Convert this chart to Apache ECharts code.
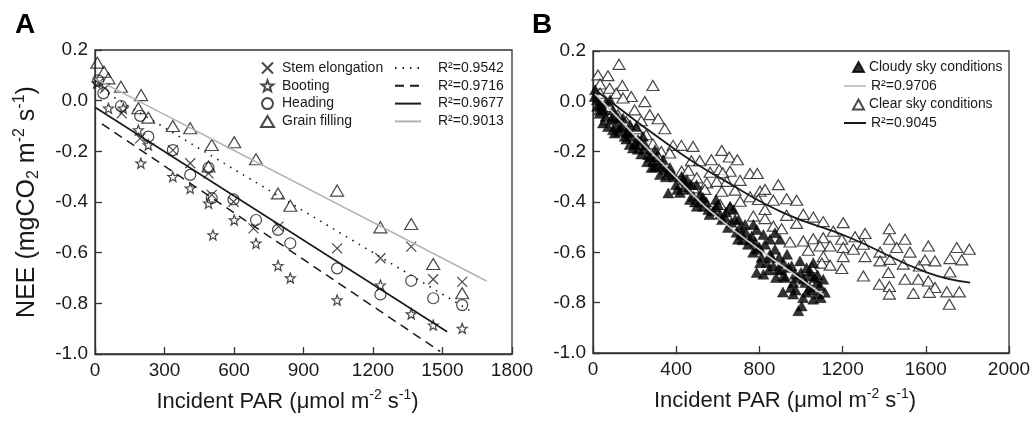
<!DOCTYPE html>
<html><head><meta charset="utf-8">
<script src="https://cdn.jsdelivr.net/npm/echarts@6/dist/echarts.min.js"></script>
<style>html,body{margin:0;padding:0;background:#fff}#c{width:1035px;height:422px}</style>
</head><body><div id="c"></div>
<script>
// ---------- Panel A data ----------
const stemElongation = [[14,0.068],[43,0.049],[115,-0.05],[195,-0.149],[336,-0.195],[411,-0.247],[490,-0.287],[504,-0.372],[598,-0.399],[684,-0.504],[792,-0.497],[1045,-0.583],[1232,-0.622],[1365,-0.576],[1460,-0.705],[1585,-0.715]];
const booting = [[8,0.07],[58,-0.03],[122,-0.03],[187,-0.116],[198,-0.247],[230,-0.175],[336,-0.30],[411,-0.346],[490,-0.405],[509,-0.53],[601,-0.471],[695,-0.563],[790,-0.651],[843,-0.70],[1045,-0.787],[1232,-0.728],[1365,-0.842],[1460,-0.886],[1585,-0.899]];
const heading = [[14,0.08],[36,0.029],[112,-0.021],[195,-0.06],[230,-0.142],[336,-0.195],[411,-0.293],[490,-0.265],[504,-0.385],[598,-0.39],[695,-0.471],[790,-0.51],[843,-0.563],[1045,-0.662],[1232,-0.765],[1365,-0.711],[1460,-0.78],[1585,-0.807]];
const grainFilling = [[10,0.15],[39,0.114],[58,0.088],[112,0.055],[187,-0.03],[199,0.022],[230,-0.067],[336,-0.10],[411,-0.109],[490,-0.26],[504,-0.175],[601,-0.164],[695,-0.231],[790,-0.366],[843,-0.415],[1045,-0.355],[1232,-0.50],[1365,-0.487],[1460,-0.645],[1585,-0.76]];
const fitStem = [[0,0.058],[1620,-0.83]];
const fitBooting = [[30,-0.092],[1490,-0.99]];
const fitHeading = [[0,-0.026],[1520,-0.912]];
const fitGrain = [[0,0.087],[1690,-0.712]];
const namesA = ['Stem elongation','Booting','Heading','Grain filling'];
const r2A = ['R\u00b2=0.9542','R\u00b2=0.9716','R\u00b2=0.9677','R\u00b2=0.9013'];
const ticksAx = {min:0,max:1800,interval:300};
const ticksY = {min:-1.0,max:0.2,interval:0.2};

// ---------- Panel B data ----------
const clearSky = [[125,0.147],[24,0.105],[72,0.102],[34,0.069],[141,0.063],[288,0.063],[80,0.052],[34,0.032],[112,0.032],[184,0.019],[144,0.013],[249,-0.001],[80,-0.021],[34,-0.034],[200,-0.034],[273,-0.053],[120,-0.053],[313,-0.069],[232,-0.077],[64,-0.073],[160,-0.08],[345,-0.109],[208,-0.109],[256,-0.133],[385,-0.175],[425,-0.175],[481,-0.179],[232,-0.169],[288,-0.169],[328,-0.199],[369,-0.205],[313,-0.219],[473,-0.236],[513,-0.236],[569,-0.232],
[619,-0.195],[655,-0.221],[694,-0.232],[426,-0.278],[458,-0.274],[563,-0.282],[607,-0.271],[659,-0.278],[624,-0.284],[499,-0.304],[755,-0.287],[790,-0.287],[707,-0.314],[891,-0.331],[547,-0.324],[595,-0.318],[643,-0.318],[451,-0.314],[482,-0.344],[538,-0.35],[619,-0.357],[803,-0.357],[827,-0.35],[683,-0.353],[755,-0.379],[795,-0.39],[867,-0.393],[931,-0.387],[979,-0.393],[707,-0.397],[611,-0.41],[659,-0.423],[827,-0.43],[771,-0.456],[931,-0.453],
[1011,-0.449],[1059,-0.46],[1107,-0.478],[1203,-0.482],[827,-0.466],[867,-0.496],[907,-0.506],[979,-0.485],[1155,-0.516],[1260,-0.538],[1308,-0.525],[1011,-0.555],[1059,-0.546],[1107,-0.542],[1196,-0.548],[947,-0.559],[1091,-0.575],[1140,-0.575],[1203,-0.581],[1252,-0.588],[1300,-0.568],[1035,-0.592],[1203,-0.617],[1308,-0.617],[1107,-0.617],[1100,-0.643],[1140,-0.651],[1196,-0.664],[1300,-0.694],[1052,-0.661],
[1425,-0.506],[1425,-0.548],[1500,-0.548],[1380,-0.599],[1460,-0.581],[1524,-0.599],[1380,-0.634],[1428,-0.628],[1492,-0.647],[1420,-0.68],[1500,-0.707],[1569,-0.654],[1564,-0.707],[1377,-0.727],[1425,-0.736],[1612,-0.575],[1596,-0.63],[1644,-0.634],[1612,-0.714],[1644,-0.74],[1540,-0.763],[1617,-0.759],[1425,-0.766],[1716,-0.678],[1749,-0.581],[1809,-0.588],[1716,-0.625],[1773,-0.63],[1701,-0.757],[1761,-0.757],[1713,-0.806]];
const cloudySky = [[8,0.019],[10,0.046],[32,-0.047],[48,-0.086],[72,-0.10],[112,-0.093],[104,-0.126],[152,-0.139],[176,-0.172],[192,-0.185],[232,-0.209],[264,-0.212],[288,-0.238],[64,-0.001],[96,-0.034],[144,-0.067],[208,-0.10],[240,-0.139],[82,0.006],[337,-0.232],[433,-0.311],[529,-0.382],[96,-0.113],[282,-0.263],[362,-0.364],[418,-0.362],[499,-0.417],[426,-0.298],[451,-0.318],[482,-0.377],[530,-0.417],[554,-0.43],[578,-0.436],[611,-0.449],[659,-0.417],[675,-0.43],[515,-0.37],[498,-0.331],
[771,-0.489],[787,-0.509],[763,-0.535],[819,-0.529],[875,-0.522],[899,-0.548],[787,-0.588],[803,-0.641],[851,-0.608],[867,-0.654],[915,-0.641],[955,-0.654],[995,-0.634],[1027,-0.661],[1059,-0.641],[915,-0.694],[963,-0.72],[1011,-0.707],[1043,-0.694],[1091,-0.733],[819,-0.687],[787,-0.68],[987,-0.832],[913,-0.758],[962,-0.766],[1043,-0.674],[1076,-0.72],[1107,-0.707],[1027,-0.759],[1003,-0.813],[1059,-0.786],[1115,-0.759],
[635,-0.461],[683,-0.469],[707,-0.501],[731,-0.489],[697,-0.548],[745,-0.568],[649,-0.501],[716,-0.529],[601,-0.41],[346,-0.271],[380,-0.291],[399,-0.331],[322,-0.291],[370,-0.263],[457,-0.35],[250,-0.172],[298,-0.192],[313,-0.251],[216,-0.152],[130,-0.105],[163,-0.125],[34,-0.014],[19,0.006],[53,-0.034],[120,-0.065],[178,-0.093],[591,-0.39],[466,-0.39],[827,-0.568],[875,-0.588],[933,-0.608],[971,-0.687],[851,-0.548],[1083,-0.766],[1043,-0.739],[889,-0.667],
[20,-0.02],[40,-0.03],[60,-0.06],[88,-0.07],[100,-0.06],[125,-0.12],[140,-0.10],[160,-0.15],[170,-0.12],[185,-0.14],[200,-0.17],[215,-0.19],[225,-0.16],[245,-0.19],[260,-0.24],[275,-0.22],[295,-0.26],[305,-0.22],[330,-0.26],[350,-0.30],[365,-0.28],[390,-0.30],[405,-0.35],[440,-0.34],[470,-0.33],[490,-0.40],[520,-0.40],[545,-0.40],[560,-0.45],[590,-0.42],[620,-0.47],[640,-0.44],[665,-0.48],[690,-0.52],[700,-0.47],[720,-0.55],[735,-0.52],[755,-0.55],[770,-0.60],[780,-0.56],[800,-0.58],[810,-0.62],[835,-0.64],[845,-0.67],[860,-0.62],[880,-0.70],[895,-0.62],[905,-0.67],[925,-0.70],[940,-0.66],[950,-0.74],[975,-0.75],[985,-0.70],[1000,-0.68],[1020,-0.72],[1050,-0.75],[1065,-0.70],[1080,-0.69],[1095,-0.78],[1010,-0.78]];
const fitCloudy = [[10,0.03],[418,-0.318],[611,-0.469],[1043,-0.733],[1110,-0.77]];
const fitClear = [[10,0.046],[418,-0.205],[625,-0.311],[913,-0.442],[1236,-0.542],[1604,-0.68],[1813,-0.72]];
const namesB = ['Cloudy sky conditions','R\u00b2=0.9706','Clear sky conditions','R\u00b2=0.9045'];
const ticksBx = {min:0,max:2000,interval:400};

// ---------- styling ----------
const FONT = 'Arial, "Liberation Sans", sans-serif';
const INK = '#1a1a1a';
const FRAME = '#333';
const X_PATH = 'path://M0,0L10,10M10,0L0,10';
const STAR_PATH = 'path://M10,0L12.47,6.6L19.51,6.91L13.99,11.3L15.88,18.09L10,14.2L4.12,18.09L6.01,11.3L0.49,6.91L7.53,6.6Z';
const hollow = {color:'rgba(0,0,0,0)', borderColor:INK, borderWidth:1.2};
const noSym = {opacity:0};

function rich(sz){
  return {
    sup:{fontSize:sz, fontFamily:FONT, color:INK, verticalAlign:'top', lineHeight:sz},
    sub:{fontSize:sz, fontFamily:FONT, color:INK, verticalAlign:'bottom', lineHeight:sz}
  };
}
function xAxis(idx, t){
  return {gridIndex:idx, type:'value', min:t.min, max:t.max, interval:t.interval,
    name:'Incident PAR (\u03bcmol m{sup|-2} s{sup|-1})', nameLocation:'middle', nameGap:34,
    nameTextStyle:{fontSize:22, fontFamily:FONT, color:INK, lineHeight:28, padding:[0,32,0,0], rich:rich(14)},
    axisLine:{show:true, onZero:false, lineStyle:{color:FRAME, width:1.3}},
    axisTick:{show:true, inside:true, length:7, lineStyle:{color:FRAME, width:1.3}},
    axisLabel:{fontSize:19, fontFamily:FONT, color:INK, margin:7, formatter:v=>String(v)},
    splitLine:{show:false}};
}
function yAxis(idx, withName){
  const a = {gridIndex:idx, type:'value', min:ticksY.min, max:ticksY.max, interval:ticksY.interval,
    axisLine:{show:true, onZero:false, lineStyle:{color:FRAME, width:1.3}},
    axisTick:{show:true, inside:true, length:7, lineStyle:{color:FRAME, width:1.3}},
    axisLabel:{fontSize:19, fontFamily:FONT, color:INK, margin:7, formatter:v=>v.toFixed(1)},
    splitLine:{show:false}};
  if(withName){
    a.name = 'NEE (mgCO{sub|2} m{sup|-2} s{sup|-1})';
    a.nameLocation='middle'; a.nameGap=53; a.nameRotate=90;
    a.nameTextStyle={fontSize:25, fontFamily:FONT, color:INK, lineHeight:30, rich:rich(16)};
  }
  return a;
}
function legendB(name, left, top, w, isLine, fs){
  const l = {data:[name], orient:'vertical', left:left, top:top, padding:0, itemWidth:w, itemHeight:10, selectedMode:false,
    textStyle:{fontSize:fs, fontFamily:FONT, color:INK}};
  if(isLine) l.itemStyle = noSym;
  return l;
}

const option = {
  backgroundColor:'#fff',
  animation:false,
  textStyle:{fontFamily:FONT},
  title:[
    {text:'A', left:10, top:6, textStyle:{fontSize:28, fontWeight:'bold', color:'#000', fontFamily:FONT}},
    {text:'B', left:527, top:6, textStyle:{fontSize:28, fontWeight:'bold', color:'#000', fontFamily:FONT}}
  ],
  grid:[
    {left:95, top:50, width:417, height:304, show:true, borderColor:FRAME, borderWidth:1.3, backgroundColor:'transparent'},
    {left:593, top:51, width:416, height:302, show:true, borderColor:FRAME, borderWidth:1.3, backgroundColor:'transparent'}
  ],
  xAxis:[xAxis(0,ticksAx), xAxis(1,ticksBx)],
  yAxis:[yAxis(0,true), yAxis(1,false)],
  legend:[
    {data:namesA, orient:'vertical', left:260, top:61, padding:0, itemWidth:13, itemHeight:11, itemGap:3.8, selectedMode:false,
     formatter:n=>'{t|'+n+'}',
     textStyle:{fontSize:14, fontFamily:FONT, color:INK, rich:{t:{fontSize:14, fontFamily:FONT, color:INK, lineHeight:16, padding:[0,0,0,3]}}}},
    {data:r2A, orient:'vertical', left:394, top:61, padding:0, itemWidth:26, itemHeight:11, itemGap:3.8, selectedMode:false, itemStyle:noSym,
     formatter:n=>'{t|'+n+'}',
     textStyle:{fontSize:14, fontFamily:FONT, color:INK, rich:{t:{fontSize:14, fontFamily:FONT, color:INK, lineHeight:16, padding:[0,0,0,12]}}}},
    legendB(namesB[0], 852, 60, 11, false, 13.8),
    legendB(namesB[1], 843, 79, 22, true, 14),
    legendB(namesB[2], 852, 97.5, 11, false, 13.8),
    legendB(namesB[3], 843, 116, 22, true, 14)
  ],
  series:[
    {name:'Stem elongation', type:'scatter', xAxisIndex:0, yAxisIndex:0, data:stemElongation, symbol:X_PATH, symbolSize:10, itemStyle:hollow},
    {name:'Booting', type:'scatter', xAxisIndex:0, yAxisIndex:0, data:booting, symbol:STAR_PATH, symbolSize:10, itemStyle:hollow},
    {name:'Heading', type:'scatter', xAxisIndex:0, yAxisIndex:0, data:heading, symbol:'circle', symbolSize:11, itemStyle:hollow},
    {name:'Grain filling', type:'scatter', xAxisIndex:0, yAxisIndex:0, data:grainFilling, symbol:'triangle', symbolSize:[13,11], itemStyle:hollow},
    {name:r2A[0], type:'line', xAxisIndex:0, yAxisIndex:0, data:fitStem, symbol:'none', lineStyle:{color:INK, width:1.6, type:[1.5,6]}, itemStyle:{color:INK}},
    {name:r2A[1], type:'line', xAxisIndex:0, yAxisIndex:0, data:fitBooting, symbol:'none', lineStyle:{color:INK, width:1.5, type:[9,6]}, itemStyle:{color:INK}},
    {name:r2A[2], type:'line', xAxisIndex:0, yAxisIndex:0, data:fitHeading, symbol:'none', lineStyle:{color:INK, width:1.6}, itemStyle:{color:INK}},
    {name:r2A[3], type:'line', xAxisIndex:0, yAxisIndex:0, data:fitGrain, symbol:'none', lineStyle:{color:'#b4b4b4', width:1.6}, itemStyle:{color:'#b4b4b4'}},

    {name:namesB[2], type:'scatter', xAxisIndex:1, yAxisIndex:1, data:clearSky, symbol:'triangle', symbolSize:[12,10], itemStyle:{color:'#fff', borderColor:INK, borderWidth:1.2}},
    {name:namesB[0], type:'scatter', xAxisIndex:1, yAxisIndex:1, data:cloudySky, symbol:'triangle', symbolSize:[11,10], itemStyle:{color:'#000', borderColor:'#000', borderWidth:0.5}},
    {name:namesB[1], type:'line', xAxisIndex:1, yAxisIndex:1, data:fitCloudy, symbol:'none', smooth:true, lineStyle:{color:'#c8c8c8', width:1.8}, itemStyle:{color:'#c8c8c8'}},
    {name:namesB[3], type:'line', xAxisIndex:1, yAxisIndex:1, data:fitClear, symbol:'none', smooth:true, lineStyle:{color:INK, width:1.8}, itemStyle:{color:INK}}
  ]
};
const chart = echarts.init(document.getElementById('c'), null, {renderer:'canvas'});
chart.setOption(option);
</script></body></html>
